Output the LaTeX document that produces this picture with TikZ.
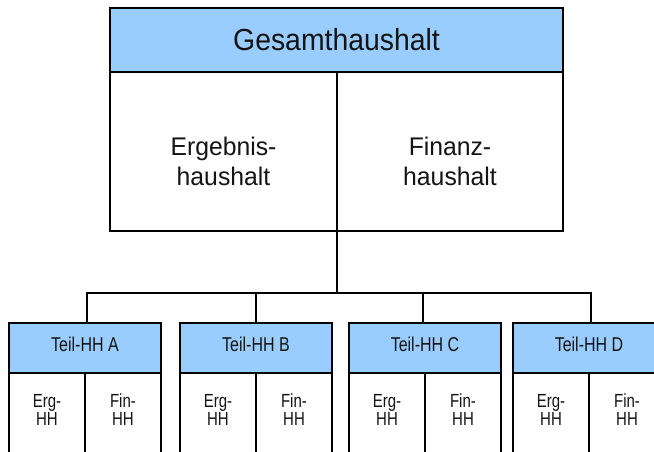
\documentclass[tikz,border=0pt]{standalone}
\usepackage{fontspec}
\setmainfont{Liberation Sans}
\definecolor{hdrblue}{RGB}{153,204,255}
\definecolor{txt}{RGB}{20,20,20}
\begin{document}
\begin{tikzpicture}[x=1pt,y=-1pt,
  ln/.style={line width=2.4pt},
  hdr/.style={draw, ln, fill=hdrblue, inner sep=0pt, outer sep=0pt, text=txt},
  bx/.style={draw, ln, fill=white, inner sep=0pt, outer sep=0pt},
  bigtxt/.style={align=center, inner sep=0pt, text=txt, font=\fontsize{25.5}{30}\selectfont\addfontfeature{FakeStretch=0.97}},
  smalltxt/.style={align=center, inner sep=0pt, text=txt, font=\fontsize{19}{18}\selectfont\addfontfeature{FakeStretch=0.79}}]
\useasboundingbox (0,0) rectangle (654,452);
\clip (0,0) rectangle (654,452);
\fill[white] (0,0) rectangle (654,452);
% top box
\node[bx, minimum width=227pt, minimum height=159pt] (ergb) at (223.5,151.5) {};
\node[bx, minimum width=226pt, minimum height=159pt] (finb) at (450,151.5) {};
\node[hdr, minimum width=453pt, minimum height=64pt, font=\fontsize{30.5}{35}\selectfont\addfontfeature{FakeStretch=0.93}] (ges) at (336.5,40) {Gesamthaushalt};
\node[bigtxt] (ergt) at (223.5,161) {Ergebnis-\\haushalt};
\node[bigtxt] (fint) at (450,161) {Finanz-\\haushalt};
% sub boxes
\foreach \n/\cx in {A/85,B/256,C/425,D/589}{
  \node[bx, minimum width=76pt, minimum height=107pt] (e\n) at (\cx-38,426.5) {};
  \node[bx, minimum width=76pt, minimum height=107pt] (f\n) at (\cx+38,426.5) {};
  \node[hdr, minimum width=152pt, minimum height=50pt] (h\n) at (\cx,348) {};
  \node[inner sep=0pt, text=txt, font=\fontsize{20}{20}\selectfont\addfontfeature{FakeStretch=0.8}] (ht\n) at (\cx,344.5) {Teil-HH \n};
  \node[smalltxt] (et\n) at (\cx-38,409.5) {Erg-\\HH};
  \node[smalltxt] (ft\n) at (\cx+38,409.5) {Fin-\\HH};
}
% connectors
\coordinate (bus) at (337,293);
\coordinate (busL) at (87,293);
\coordinate (busR) at (591,293);
\draw[ln] (ergb.south east) -- (ergb.south east |- bus);
\draw[ln] ([xshift=2pt]hA.north) -- (busL) -- (busR) -- ([xshift=2pt]hD.north);
\draw[ln] (hB.north) -- (hB.north |- bus);
\draw[ln] ([xshift=-2pt]hC.north) -- ([xshift=-2pt]hC.north |- bus);
\end{tikzpicture}
\end{document}
